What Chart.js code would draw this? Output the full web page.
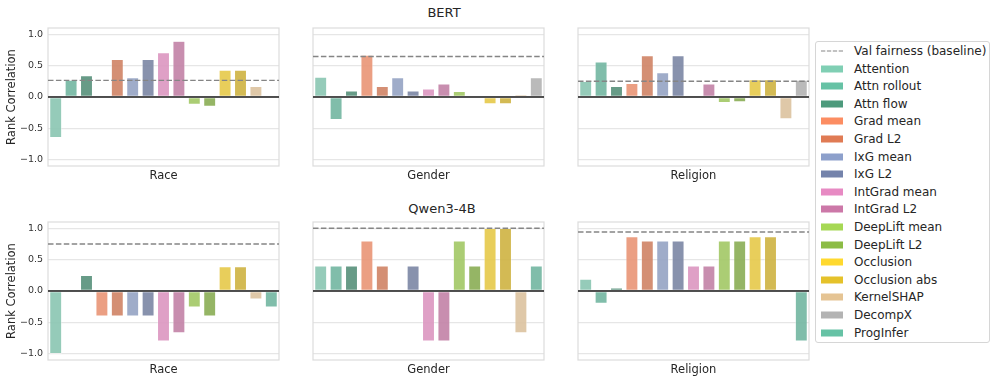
<!DOCTYPE html>
<html>
<head>
<meta charset="utf-8">
<script src="https://cdn.jsdelivr.net/npm/chart.js"></script>
<style>
  body { margin: 0; background: #fff; width: 997px; height: 382px; position: relative; overflow: hidden; font-family: "DejaVu Sans", sans-serif; color: #262626; }
  canvas { position: absolute; }
  .rowtitle { position: absolute; font-size: 13px; transform: translate(-50%, -50%); white-space: nowrap; }
  #legend { position: absolute; left: 815px; top: 41px; width: 175px; height: 302px; border: 1px solid #d6d6d6; border-radius: 3px; box-sizing: border-box; background: #fff; }
  .item { position: absolute; left: 0; height: 18px; width: 100%; font-size: 12px; }
  .item span { position: absolute; left: 38px; top: 50%; transform: translateY(-50%); white-space: nowrap; }
  .patch { position: absolute; left: 5px; width: 22px; height: 7px; top: 50%; transform: translateY(-50%); }
  .item svg { position: absolute; left: 5px; top: 50%; transform: translateY(-50%); }
</style>
</head>
<body>
<div class="rowtitle" style="left:444px; top:12px">BERT</div>
<div class="rowtitle" style="left:442px; top:208px">Qwen3-4B</div>
<div id="legend"></div>

<script>
// methods and their colours (legend colours; bars are desaturated like seaborn)
const methods = ['Attention', 'Attn rollout', 'Attn flow', 'Grad mean', 'Grad L2', 'IxG mean', 'IxG L2',
  'IntGrad mean', 'IntGrad L2', 'DeepLift mean', 'DeepLift L2', 'Occlusion', 'Occlusion abs',
  'KernelSHAP', 'DecompX', 'ProgInfer'];
const colors = ['#80cfb4', '#66c2a5', '#4d9a7c', '#fc8d62', '#e07b54', '#8da0cb', '#7483ab',
  '#e78ac3', '#cc78a8', '#a6d854', '#8cbc45', '#ffd92f', '#e5c22a', '#e5c494', '#b3b3b3', '#66c2a5'];

const attrs = ['Race', 'Gender', 'Religion'];
const bertMethods = methods.filter(m => m !== 'ProgInfer');
const qwenMethods = methods.filter(m => m !== 'DecompX');

// BERT (order of bertMethods)
const bertRace     = [-0.65, 0.27, 0.34, -0.03, 0.60, 0.31, 0.60, 0.71, 0.89, -0.12, -0.15, 0.43, 0.43, 0.17, null];
const bertGender   = [0.32, -0.36, 0.10, 0.67, 0.17, 0.31, 0.10, 0.13, 0.21, 0.09, 0.03, -0.11, -0.11, 0.04, 0.31];
const bertReligion = [0.25, 0.56, 0.17, 0.22, 0.66, 0.39, 0.66, null, 0.21, -0.09, -0.08, 0.28, 0.28, -0.35, 0.27];
const bertBaseline = [0.265, 0.645, 0.25];

// Qwen3-4B (order of qwenMethods)
const qwenRace     = [-1.0, null, 0.25, -0.40, -0.40, -0.40, -0.40, -0.80, -0.67, -0.26, -0.40, 0.39, 0.39, -0.13, -0.26];
const qwenGender   = [0.40, 0.40, 0.40, 0.80, 0.40, null, 0.40, -0.80, -0.80, 0.80, 0.40, 1.0, 1.0, -0.67, 0.40];
const qwenReligion = [0.19, -0.20, 0.05, 0.87, 0.80, 0.80, 0.80, 0.40, 0.40, 0.80, 0.80, 0.87, 0.87, null, -0.80];
const qwenBaseline = [0.75, 1.0, 0.94];

const yTicks = [-1.0, -0.5, 0.0, 0.5, 1.0];
const yMin = -1.1, yMax = 1.1;

// seaborn style desaturation
function desat(hex, prop, alpha) {
  let r = parseInt(hex.slice(1, 3), 16) / 255, g = parseInt(hex.slice(3, 5), 16) / 255, b = parseInt(hex.slice(5, 7), 16) / 255;
  const mx = Math.max(r, g, b), mn = Math.min(r, g, b);
  let h = 0, s = 0; const l = (mx + mn) / 2;
  if (mx !== mn) {
    const d = mx - mn;
    s = l > 0.5 ? d / (2 - mx - mn) : d / (mx + mn);
    if (mx === r) h = ((g - b) / d + (g < b ? 6 : 0)) / 6;
    else if (mx === g) h = ((b - r) / d + 2) / 6;
    else h = ((r - g) / d + 4) / 6;
  }
  s *= prop;
  const hue = (p, q, t) => { if (t < 0) t += 1; if (t > 1) t -= 1; if (t < 1/6) return p + (q - p) * 6 * t; if (t < 1/2) return q; if (t < 2/3) return p + (q - p) * (2/3 - t) * 6; return p; };
  const q = l < 0.5 ? l * (1 + s) : l + s - l * s, p = 2 * l - q;
  r = hue(p, q, h + 1/3); g = hue(p, q, h); b = hue(p, q, h - 1/3);
  return `rgba(${Math.round(r*255)},${Math.round(g*255)},${Math.round(b*255)},${alpha})`;
}
const colorOf = m => colors[methods.indexOf(m)];

const framePlugin = {
  id: 'frame',
  beforeDatasetsDraw(chart) {
    const a = chart.chartArea, ctx = chart.ctx;
    ctx.save();
    ctx.strokeStyle = '#dcdcdc';
    ctx.lineWidth = 1.2;
    ctx.strokeRect(a.left, a.top, a.right - a.left, a.bottom - a.top);
    ctx.restore();
  }
};

const frameLefts = [48, 313, 578];
const frameW = 231;
const rows = [
  { top: 28, h: 138, labels: bertMethods, data: [bertRace, bertGender, bertReligion], base: bertBaseline },
  { top: 222, h: 138, labels: qwenMethods, data: [qwenRace, qwenGender, qwenReligion], base: qwenBaseline }
];

rows.forEach(row => {
  attrs.forEach((attr, c) => {
    const cv = document.createElement('canvas');
    const W = 48 + frameW + 4, H = 6 + row.h + 18;
    cv.width = W; cv.height = H;
    cv.style.left = (frameLefts[c] - 48) + 'px';
    cv.style.top = (row.top - 6) + 'px';
    cv.style.width = W + 'px'; cv.style.height = H + 'px';
    document.body.appendChild(cv);

    const vals = row.data[c];
    new Chart(cv, {
      data: {
        labels: row.labels,
        datasets: [
          {
            type: 'bar', order: 3, data: vals, grouped: false,
            backgroundColor: row.labels.map(m => desat(colorOf(m), 0.75, 0.9)),
            borderColor: 'rgba(255,255,255,0.6)', borderWidth: 0.7, borderSkipped: false,
            categoryPercentage: 1.0, barPercentage: 0.8
          },
          {
            type: 'line', order: 1, xAxisID: 'x2',
            data: [{ x: 0, y: 0 }, { x: 1, y: 0 }],
            borderColor: '#1a1a1a', borderWidth: 1.3, pointRadius: 0
          },
          {
            type: 'line', order: 2, xAxisID: 'x2',
            data: [{ x: 0, y: row.base[c] }, { x: 1, y: row.base[c] }],
            borderColor: '#858585', borderWidth: 1.4, borderDash: [5.5, 2.4], pointRadius: 0
          }
        ]
      },
      options: {
        responsive: false, animation: false, devicePixelRatio: 1,
        layout: { padding: { top: 6, right: 4, left: 0, bottom: 0 } },
        plugins: { legend: { display: false }, tooltip: { enabled: false } },
        scales: {
          x: {
            type: 'category', offset: true,
            grid: { display: false }, border: { display: false },
            ticks: { display: false },
            title: { display: true, text: attr, color: '#262626', font: { family: 'DejaVu Sans', size: 11.5 }, padding: { top: 0, bottom: 1 } },
            afterFit: s => { s.height = 18; s.paddingLeft = 0; s.paddingRight = 0; s.paddingTop = 0; s.paddingBottom = 0; }
          },
          x2: { type: 'linear', min: 0, max: 1, display: false },
          y: {
            min: yMin, max: yMax,
            afterBuildTicks: s => { s.ticks = yTicks.map(v => ({ value: v })); },
            grid: { color: '#e6e6e6', lineWidth: 1.2, drawTicks: false },
            border: { display: false },
            ticks: {
              display: c === 0, padding: 5, color: '#333',
              font: { family: 'DejaVu Sans', size: 9.5 },
              callback: v => (v < 0 ? '\u2212' : '') + Math.abs(v).toFixed(1)
            },
            title: { display: c === 0, text: 'Rank Correlation', color: '#262626', font: { family: 'DejaVu Sans', size: 11.5 }, padding: { top: 5, bottom: 0 } },
            afterFit: s => { s.width = 48; s.paddingTop = 0; s.paddingBottom = 0; s.paddingLeft = 0; s.paddingRight = 0; }
          }
        }
      },
      plugins: [framePlugin]
    });
  });
});

// legend
const legend = document.getElementById('legend');
const rowH = 17.6;
const entries = [{ label: 'Val fairness (baseline)', dash: true }].concat(methods.map((m, i) => ({ label: m, color: colors[i] })));
entries.forEach((e, i) => {
  const it = document.createElement('div');
  it.className = 'item';
  it.style.top = (50 - 42 + i * rowH - 8) + 'px';
  if (e.dash) {
    it.innerHTML = '<svg width="22" height="4"><line x1="0" y1="2" x2="22" y2="2" stroke="#858585" stroke-width="1.2" stroke-dasharray="4.3 1.6"/></svg>';
  } else {
    const p = document.createElement('div');
    p.className = 'patch';
    p.style.background = e.color;
    it.appendChild(p);
  }
  const sp = document.createElement('span');
  sp.textContent = e.label;
  it.appendChild(sp);
  legend.appendChild(it);
});
</script>
</body>
</html>
